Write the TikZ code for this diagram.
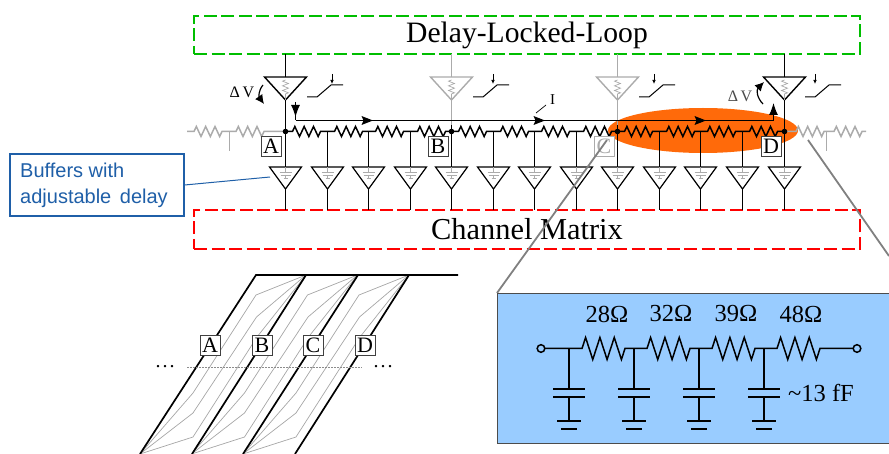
\documentclass[tikz,border=0pt]{standalone}
\usepackage{fontspec}
\setmainfont{Liberation Serif}
\newfontfamily\sansf{Liberation Sans}
\usetikzlibrary{arrows.meta,calc}
\definecolor{dllgreen}{HTML}{00BE00}
\definecolor{chred}{HTML}{FF0000}
\definecolor{hot}{HTML}{FF6A0A}
\definecolor{sky}{HTML}{99CCFF}
\definecolor{callout}{HTML}{1F5FA8}
\definecolor{ghost}{HTML}{ABABAB}
\definecolor{zoomline}{HTML}{808080}
\newcommand{\zz}[2]{-- ++({#1/12},{-#2}) -- ++({#1/6},{2*#2}) -- ++({#1/6},{-2*#2}) -- ++({#1/6},{2*#2}) -- ++({#1/6},{-2*#2}) -- ++({#1/6},{2*#2}) -- ++({#1/12},{-#2})}
\newcommand{\vz}[2]{-- ++({-#2},{#1/12}) -- ++({2*#2},{#1/6}) -- ++({-2*#2},{#1/6}) -- ++({2*#2},{#1/6}) -- ++({-2*#2},{#1/6}) -- ++({2*#2},{#1/6}) -- ++({-#2},{#1/12})}
\tikzset{
  x=1pt,y=-1pt,
  wire/.style={line width=1.5pt,black,line join=miter},
  ghostwire/.style={line width=1.5pt,ghost},
  dashbox/.style={line width=2.6pt,dash pattern=on 13pt off 4.5pt,fill=none},
  lbl/.style={draw=black!75,fill=white,line width=0.9pt,minimum size=20pt,inner sep=0pt,font=\fontsize{22}{22}\selectfont},
  gtrace/.style={line width=0.7pt,black!35},
  ttrace/.style={line width=1.7pt,black},
  zoomedge/.style={line width=1.8pt,zoomline},
  cirw/.style={line width=1.5pt,black},
  bighead/.style={line width=1.1pt,-{Latex[length=12pt,width=9pt]}},
  bendarrow/.style={line width=1.2pt,-{Latex[length=9pt,width=9pt]}},
}
\begin{document}
\begin{tikzpicture}
\useasboundingbox (0,0) rectangle (889,454);
% coordinates of the taps
\foreach \i/\x in {0/285.5,1/327.5,2/368.5,3/410.5,4/451.5,5/493.5,6/534.5,7/576.5,8/617.5,9/659.5,10/700.5,11/742.5,12/784.5}{
  \coordinate (t\i) at (\x,131.5);
  \coordinate (b\i) at (\x,167);
}
% frames
\node[dashbox,draw=dllgreen,minimum width=666pt,minimum height=38pt,inner sep=0pt,font=\fontsize{29.6}{30}\selectfont] (dll) at (527,35) {Delay-Locked-Loop};
\node[dashbox,draw=chred,minimum width=666pt,minimum height=39pt,inner sep=0pt,font=\fontsize{30.4}{30}\selectfont] (chan) at (527,229.5) {Channel Matrix};
% hot ellipse
\fill[hot] (703,130.5) ellipse [x radius=95,y radius=22.5];
% ghost end sections
\draw[ghostwire] (187,131.5) -- (194,131.5) \zz{28}{5} -- (236,131.5) \zz{28}{5} -- (t0);
\draw[ghostwire] (229.5,131.5) -- (229.5,151);
\draw[ghostwire] (t12) -- (796,131.5) \zz{28}{5} -- (834,131.5) \zz{28}{5} -- (866,131.5);
\draw[ghostwire] (826.5,131.5) -- (826.5,151);
% lower buffers
\foreach \i in {0,...,12}{
  \draw[line width=1.2pt,black,line join=miter] ($(b\i)+(-16,0)$) -- ($(b\i)+(16,0)$) -- ($(b\i)+(0,22)$) -- cycle;
  \draw[line width=0.8pt,ghost] (b\i) -- ++(0,5) ++(-6,0) -- ++(12,0) ++(-11,3) -- ++(10,0) ++(-7,3) -- ++(4,0) ++(-2,-3) -- ++(0,3);
  \draw[wire] ($(b\i)+(0,22)$) -- ($(b\i)+(0,43)$);
}
% upper buffers
\foreach \n/\x/\c in {a/285.5/black,b/451.5/ghost,c/617.5/ghost,d/784.5/black}{
  \coordinate (\n top) at (\x,77);
  \draw[line width=1.5pt,\c,line join=miter] (\x,54) -- (\x,77) ;
  \draw[line width=1.4pt,\c,line join=miter] (\x-21,77) -- (\x+21,77) -- (\x,100) -- cycle;
  \draw[line width=0.7pt,ghost] (\x,80) \vz{14}{3} -- (\x,100);
}
% tap stems
\draw[wire] (285.5,100) -- (b0);
\draw[ghostwire] (451.5,100) -- (451.5,125);
\draw[wire] (451.5,125) -- (b4);
\draw[ghostwire] (617.5,100) -- (617.5,125);
\draw[wire] (617.5,125) -- (b8);
\draw[wire] (784.5,100) -- (b12);
\foreach \i in {1,2,3,5,6,7,9,10,11}{\draw[wire] (t\i) -- (b\i);}
% resistor ladder
\draw[wire] (t0) \foreach \i in {0,...,11}{ -- ($(t\i)+(7,0)$) \zz{28}{5} } -- (t12);
\foreach \i in {0,4,8,12}{\fill (t\i) circle (2.8);}
% sense line
\coordinate (sA) at (295.5,120.5);
\coordinate (sD) at (773.5,120.5);
\draw[line width=1.1pt,black] (sA) -- (sD);
\draw[bighead] (sD) -- (773.5,103);
\draw[line width=1.1pt] (295.5,115) -- (sA);
\draw[bighead] (295.5,102) -- (295.5,117);
\foreach \x in {373,545,706}{\fill (\x,120.5) -- (\x-11.5,116) -- (\x-9.5,120.5) -- (\x-11.5,125) -- cycle;}
% current label
\coordinate (iA) at (536,113);
\coordinate (iB) at (546,105);
\node[font=\fontsize{15}{15}\selectfont] (ilabel) at (552.5,100) {I};
\draw[line width=0.7pt] (iA) -- (iB);
% step icons
\foreach \x/\ar in {307/332,473/493,639/654,805/815}{
  \draw[line width=1pt] (\x,97) -- (\x+10,97) -- (\x+24,85) -- (\x+36,85);
  \draw[line width=0.7pt,-{Latex[length=4pt,width=3.5pt]}] (\ar,74) -- (\ar,84);
}
% delta V
\node[font=\fontsize{16}{16}\selectfont] (dvA) at (242,92) {Δ\,V};
\node[font=\fontsize{16}{16}\selectfont,text=black!70] (dvD) at (740,96) {Δ\,V};
\draw[bendarrow] (263,85) .. controls (258,91) and (259,97) .. (264,104);
\draw[bendarrow] (763,104) .. controls (757,98) and (756,90) .. (764,82);
% tap labels
\node[lbl] (la) at (271,146) {A};
\node[lbl] (lb) at (438,146) {B};
\node[lbl,draw=ghost,text=ghost] (lc) at (604,146) {C};
\node[lbl] (ld) at (771,146) {D};
% zoom edges
\coordinate (zl) at (497,293);
\coordinate (zr) at (889,256);
\draw[zoomedge] (607,140) -- (zl);
\draw[zoomedge] (808,140) -- (zr);
% callout
\node[draw=callout,line width=1.2pt,fill=white,minimum width=174pt,minimum height=62pt,inner sep=0pt] (buf) at (97,185) {};
\node[anchor=west,text=callout,font=\sansf\fontsize{20}{26}\selectfont,align=left,inner sep=0pt] (buft) at (20,185) {Buffers with\\adjustable\hspace{3pt} delay};
\coordinate (bufend) at (270,177);
\draw[line width=1pt,callout] (buf.east) -- (bufend);
% timing diagram
\coordinate (top) at (256,275);
\coordinate (topend) at (458,275);
\foreach \dx in {0,51.5,103}{
  \begin{scope}[xshift=\dx pt]
    \draw[gtrace] (140,454) -- (193,393) -- (256,295) -- (306,275);
    \draw[gtrace] (140,454) -- (193,413) -- (256.5,317) -- (306,275);
    \draw[gtrace] (140,454) -- (193,437) -- (257,337) -- (306,275);
  \end{scope}
}
\draw[ttrace] (140,454) -- (top) -- (topend);
\draw[ttrace] (192,454) -- (306,275);
\draw[ttrace] (243,454) -- (358,275);
\draw[ttrace] (295,454) -- (409,275);
\coordinate (ml) at (187,367);
\coordinate (mr) at (362,367);
\draw[line width=0.6pt,black!45,dash pattern=on 1.5pt off 1.5pt] (ml) -- (mr);
\node[font=\fontsize{20}{20}\selectfont,inner sep=0pt] (dl) at (165,367) {.\hspace{2pt}.\hspace{2pt}.};
\node[font=\fontsize{20}{20}\selectfont,inner sep=0pt] (dr) at (383,367) {.\hspace{2pt}.\hspace{2pt}.};
\node[lbl] (ta) at (210,345) {A};
\node[lbl] (tb) at (262,345) {B};
\node[lbl] (tc) at (313,345) {C};
\node[lbl] (td) at (365,345) {D};
% RC inset
\node[draw=black!70,line width=1pt,fill=sky,anchor=north west,minimum width=394pt,minimum height=150pt,inner sep=0pt] (inset) at (497,293) {};
\coordinate (in) at (544.8,348.5);
\coordinate (out) at (853.2,348.5);
\draw[cirw] (in) -- (582,348.5) \zz{43}{11} -- (647,348.5) \zz{43}{11} -- (712,348.5) \zz{43}{11} -- (777,348.5) \zz{43}{11} -- (out);
\draw[cirw] (541,348.5) circle (3.8);
\draw[cirw] (857,348.5) circle (3.8);
\foreach \x in {569,634,699,764}{
  \draw[cirw] (\x,348.5) -- (\x,388);
  \draw[line width=2pt] (\x-16,388.5) -- (\x+16,388.5);
  \draw[line width=2pt] (\x-16,397) -- (\x+16,397);
  \draw[cirw] (\x,397) -- (\x,421);
  \draw[line width=2pt] (\x-12,421) -- (\x+12,421);
  \draw[line width=2pt] (\x-8,429) -- (\x+8,429);
}
\foreach \n/\x/\t in {ra/607/28,rb/671/32,rc/736/39,rd/801/48}{
  \node[font=\fontsize{24.5}{24}\selectfont] (\n) at (\x,314) {\t Ω};
}
\node[anchor=west,inner sep=0pt,font=\fontsize{24.5}{24}\selectfont] (cval) at (788,393) {\textasciitilde13 fF};
\end{tikzpicture}
\end{document}
